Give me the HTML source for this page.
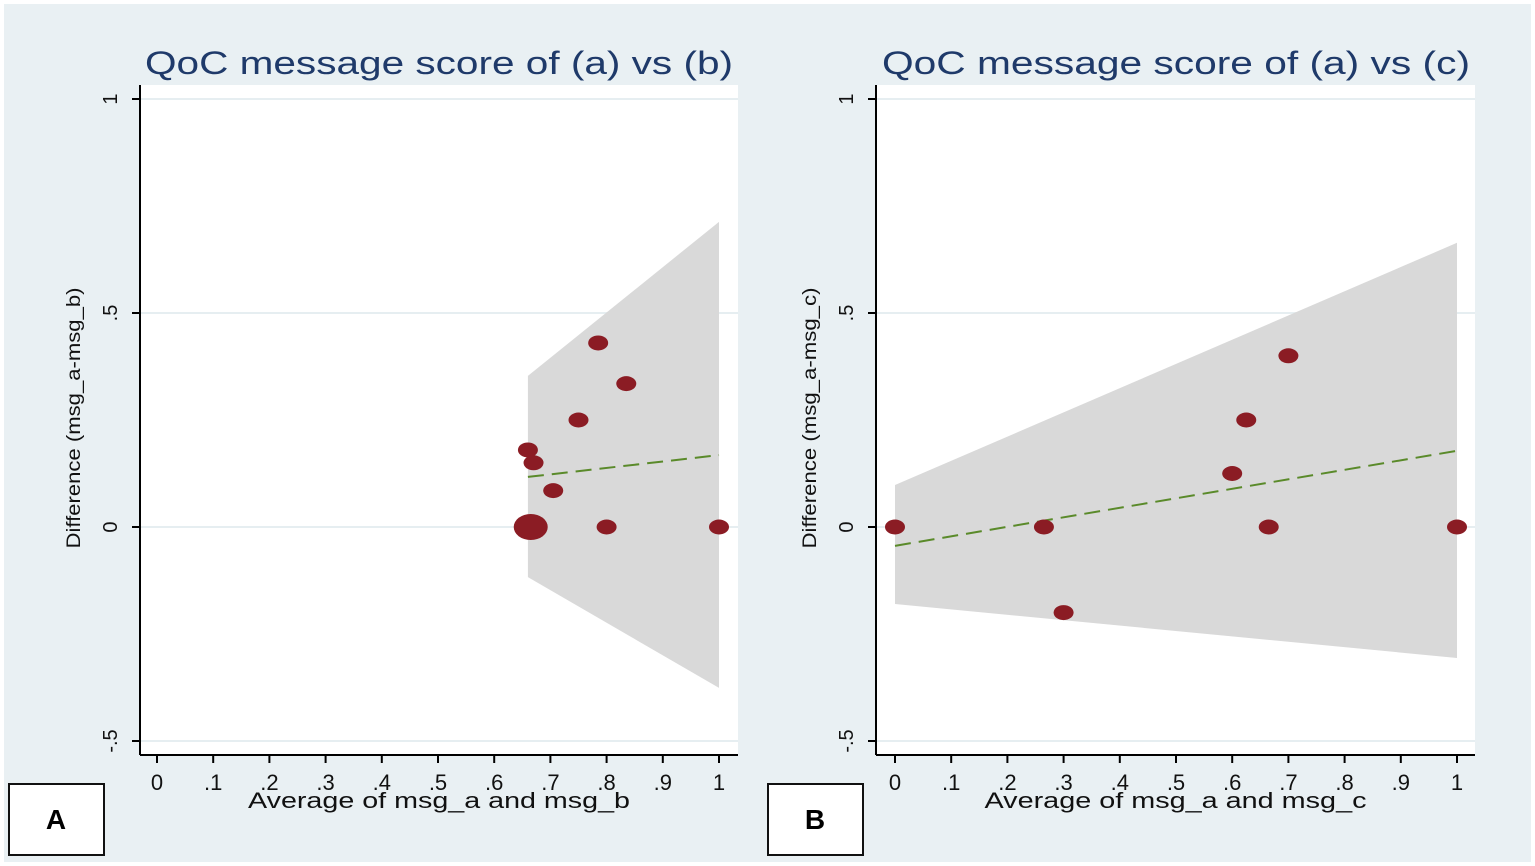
<!DOCTYPE html>
<html><head><meta charset="utf-8"><style>
html,body{margin:0;padding:0;background:#fff;}
svg{display:block;font-family:"Liberation Sans",Arial,sans-serif;}
</style></head><body>
<svg id="chart" width="1535" height="866" viewBox="0 0 1535 866" xmlns="http://www.w3.org/2000/svg">
<rect x="4" y="4" width="1527" height="858" fill="#e9f0f3"/>
<g id="panels"></g>
</svg>
<script>
// Panel A data
const aX = [0.66, 0.67, 0.705, 0.75, 0.785, 0.835, 0.665, 0.80, 1.0];
const aY = [0.18, 0.15, 0.085, 0.25, 0.43, 0.335, 0.0, 0.0, 0.0];
const aSize = [1, 1, 1, 1, 1, 1, 2, 1, 1];
const aBandX = [0.66, 1.0];
const aBandUpper = [0.353, 0.713];
const aBandLower = [-0.117, -0.376];
const aFitY = [0.117, 0.168];
// Panel B data
const bX = [0.0, 0.265, 0.30, 0.60, 0.625, 0.665, 0.70, 1.0];
const bY = [0.0, 0.0, -0.20, 0.125, 0.25, 0.0, 0.40, 0.0];
const bSize = [1, 1, 1, 1, 1, 1, 1, 1];
const bBandX = [0.0, 1.0];
const bBandUpper = [0.098, 0.664];
const bBandLower = [-0.18, -0.306];
const bFitY = [-0.044, 0.178];
// Ticks
const xTicks = [0, .1, .2, .3, .4, .5, .6, .7, .8, .9, 1];
const xTickLabels = ["0", ".1", ".2", ".3", ".4", ".5", ".6", ".7", ".8", ".9", "1"];
const yTicks = [1, 0.5, 0, -0.5];
const yTickLabels = ["1", ".5", "0", "-.5"];

const NS = "http://www.w3.org/2000/svg";
const root = document.getElementById("panels");
function mk(tag, attrs, parent) {
  const e = document.createElementNS(NS, tag);
  for (const k in attrs) e.setAttribute(k, attrs[k]);
  (parent || root).appendChild(e);
  return e;
}

function panel(cfg) {
  const g = mk("g", {});
  
  
  const sx = v => cfg.x0 + v * (cfg.x1 - cfg.x0);
  const sy = v => 527 - v * 428;
  const plot = mk("rect", {x: cfg.left, y: 85, width: cfg.right - cfg.left, height: 670, fill: "#fff"}, g);
  
  
  yTicks.forEach(t => {
    const gl = mk("line", {x1: cfg.left, x2: cfg.right, y1: sy(t), y2: sy(t), stroke: "#e6eef1", "stroke-width": 2}, g);
    
    
  });
  const pts = [];
  cfg.bandX.forEach((x, i) => pts.push(sx(x) + "," + sy(cfg.upper[i])));
  for (let i = cfg.bandX.length - 1; i >= 0; i--) pts.push(sx(cfg.bandX[i]) + "," + sy(cfg.lower[i]));
  const band = mk("polygon", {points: pts.join(" "), fill: "#d9d9d9"}, g);
  
  
  const fit = mk("line", {x1: sx(cfg.bandX[0]), y1: sy(cfg.fit[0]), x2: sx(cfg.bandX[1]), y2: sy(cfg.fit[1]), stroke: "#5a8a2a", "stroke-width": 2, "stroke-dasharray": "16,8"}, g);
  
  
  cfg.px.forEach((x, i) => {
    const s = cfg.size[i];
    const c = mk("ellipse", {cx: sx(x), cy: sy(cfg.py[i]), rx: s > 1 ? 17 : 10, ry: s > 1 ? 13 : 7.5, fill: "#8b1c24"}, g);
    
    
  });
  const ya = mk("line", {x1: cfg.left, x2: cfg.left, y1: 85, y2: 755, stroke: "#000", "stroke-width": 2}, g);
  
  
  const xa = mk("line", {x1: cfg.left, x2: cfg.right, y1: 755, y2: 755, stroke: "#000", "stroke-width": 2}, g);
  
  
  yTicks.forEach((t, i) => {
    mk("line", {x1: cfg.left - 8, x2: cfg.left, y1: sy(t), y2: sy(t), stroke: "#000", "stroke-width": 2}, g);
    const tx = mk("text", {x: cfg.left - 23, y: sy(t), "font-size": 20, fill: "#111", "text-anchor": "middle", transform: `rotate(-90 ${cfg.left - 23} ${sy(t)})`}, g);
    tx.textContent = yTickLabels[i];
    
    
  });
  xTicks.forEach((t, i) => {
    mk("line", {x1: sx(t), x2: sx(t), y1: 755, y2: 763, stroke: "#000", "stroke-width": 2}, g);
    const tx = mk("text", {x: sx(t), y: 790, "font-size": 22, fill: "#111", "text-anchor": "middle"}, g);
    tx.textContent = xTickLabels[i];
    
    
  });
  const xt = mk("text", {x: (cfg.left + cfg.right) / 2, y: 808, "font-size": 22, fill: "#111", "text-anchor": "middle", textLength: cfg.xTitleLen, lengthAdjust: "spacingAndGlyphs"}, g);
  xt.textContent = cfg.xTitle;
  
  
  const yx = cfg.left - 60;
  const yt = mk("text", {x: yx, y: 418, "font-size": 19, fill: "#111", "text-anchor": "middle", transform: `rotate(-90 ${yx} 418)`, textLength: 261, lengthAdjust: "spacingAndGlyphs"}, g);
  yt.textContent = cfg.yTitle;
  
  
  const tt = mk("text", {x: cfg.titleX, y: 74, "font-size": 32, fill: "#1f3a6a", "text-anchor": "middle", textLength: 588, lengthAdjust: "spacingAndGlyphs"}, g);
  tt.textContent = cfg.title;
  
  
  const box = mk("rect", {x: cfg.boxX, y: 784, width: 95, height: 71, fill: "#fff", stroke: "#111", "stroke-width": 2}, g);
  
  
  const bl = mk("text", {x: cfg.boxX + 47, y: 829, "font-size": 28, "font-weight": "bold", fill: "#000", "text-anchor": "middle"}, g);
  bl.textContent = cfg.label;
  
  
}

panel({name: "panel-a", left: 140, right: 738, x0: 157, x1: 719, px: aX, py: aY, size: aSize,
  bandX: aBandX, upper: aBandUpper, lower: aBandLower, fit: aFitY,
  title: "QoC message score of (a) vs (b)", titleX: 439, xTitle: "Average of msg_a and msg_b", xTitleLen: 382,
  yTitle: "Difference (msg_a-msg_b)", boxX: 9, label: "A"});
panel({name: "panel-b", left: 876, right: 1475, x0: 895, x1: 1457, px: bX, py: bY, size: bSize,
  bandX: bBandX, upper: bBandUpper, lower: bBandLower, fit: bFitY,
  title: "QoC message score of (a) vs (c)", titleX: 1176, xTitle: "Average of msg_a and msg_c", xTitleLen: 382,
  yTitle: "Difference (msg_a-msg_c)", boxX: 768, label: "B"});
</script>
</body></html>
